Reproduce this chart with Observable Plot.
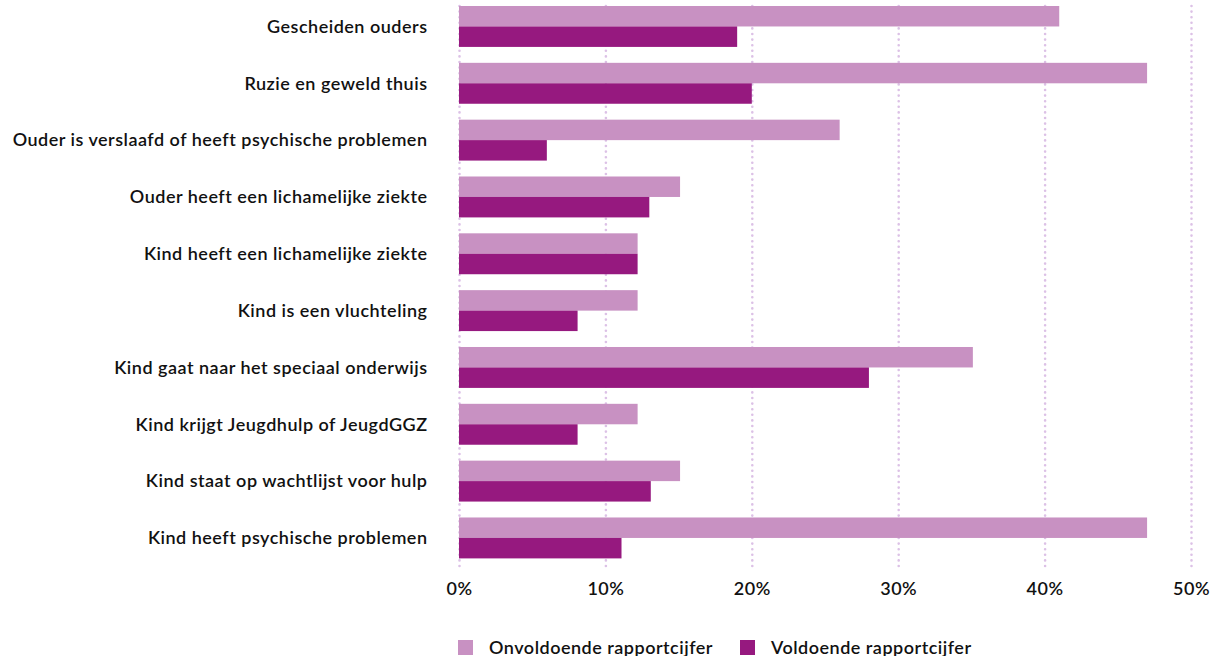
<!DOCTYPE html>
<html>
<head>
<meta charset="utf-8">
<script src="https://cdn.jsdelivr.net/npm/d3@7"></script>
<script src="https://cdn.jsdelivr.net/npm/@observablehq/plot@0.6"></script>
<style>
  html, body { margin: 0; padding: 0; background: #fff; }
  body { width: 1220px; height: 656px; overflow: hidden; font-family: Lato, "Noto Sans", sans-serif; }
  #chart svg { display: block; }
  #chart svg text { letter-spacing: 0.5px; }
  .legend { display: flex; align-items: center; margin-top: 26px; padding-left: 458px; font-size: 18px; font-weight: 600; letter-spacing: 0.5px; color: #111; }
  .legend .item { display: flex; align-items: center; margin-right: 27px; }
  .legend .sw { width: 15px; height: 15px; margin-right: 16px; }
</style>
</head>
<body>
<div id="chart"></div>
<div class="legend" id="legend"></div>
<script>
const categories = [
  "Gescheiden ouders",
  "Ruzie en geweld thuis",
  "Ouder is verslaafd of heeft psychische problemen",
  "Ouder heeft een lichamelijke ziekte",
  "Kind heeft een lichamelijke ziekte",
  "Kind is een vluchteling",
  "Kind gaat naar het speciaal onderwijs",
  "Kind krijgt Jeugdhulp of JeugdGGZ",
  "Kind staat op wachtlijst voor hulp",
  "Kind heeft psychische problemen"
];
const onvoldoende = [41, 47, 26, 15.1, 12.2, 12.2, 35.1, 12.2, 15.1, 47];
const voldoende   = [19, 20, 6, 13, 12.2, 8.1, 28, 8.1, 13.1, 11.1];
const seriesNames = ["Onvoldoende rapportcijfer", "Voldoende rapportcijfer"];
const seriesColors = ["#c891c2", "#96197f"];
const xTicks = [0, 10, 20, 30, 40, 50];

const rowsA = categories.map((c, i) => ({category: c, value: onvoldoende[i], series: seriesNames[0]}));
const rowsB = categories.map((c, i) => ({category: c, value: voldoende[i], series: seriesNames[1]}));

const H = 610;
const plot = Plot.plot({
  width: 1220,
  height: H,
  marginLeft: 459,
  marginRight: 29,
  marginTop: 6,
  marginBottom: 40,
  style: {fontFamily: "Lato, 'Noto Sans', sans-serif", fontSize: "18px", fontWeight: "600", color: "#111"},
  x: {domain: [0, 50], ticks: xTicks, tickFormat: d => d + "%", label: null},
  y: {domain: categories, paddingInner: 0.28, paddingOuter: 0, round: false, insetBottom: 11.6, label: null},
  color: {domain: seriesNames, range: seriesColors},
  marks: [
    Plot.ruleX(xTicks, {x: d => d, stroke: "#dcc1e6", strokeWidth: 2.6, strokeDasharray: "0,5.6", strokeLinecap: "round"}),
    Plot.barX(rowsA, {x: "value", y: "category", fill: "series", insetBottom: 20.45}),
    Plot.barX(rowsB, {x: "value", y: "category", fill: "series", insetTop: 20.45}),
    Plot.axisX({ticks: xTicks, tickFormat: d => d + "%", tickSize: 0, tickPadding: 12, fontSize: 18, label: null}),
    Plot.axisY({tickSize: 0, tickPadding: 32, fontSize: 18, label: null})
  ]
});
document.getElementById("chart").appendChild(plot);

const legend = document.getElementById("legend");
seriesNames.forEach((n, i) => {
  const item = document.createElement("div");
  item.className = "item";
  const sw = document.createElement("div");
  sw.className = "sw";
  sw.style.background = seriesColors[i];
  const t = document.createElement("span");
  t.textContent = n;
  item.appendChild(sw);
  item.appendChild(t);
  legend.appendChild(item);
});
</script>
</body>
</html>
